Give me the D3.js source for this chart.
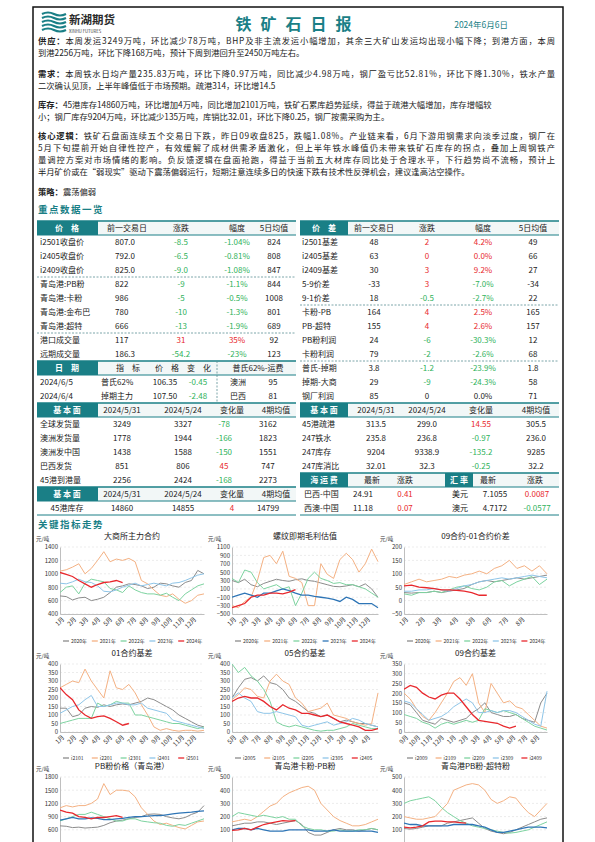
<!DOCTYPE html>
<html><head><meta charset="utf-8">
<script src="https://cdn.jsdelivr.net/npm/d3@7"></script>
<style>
body{margin:0;background:#fff;}
text{font-family:"Noto Sans CJK SC","Noto Sans",sans-serif;}
</style></head>
<body><svg id="page" width="595" height="842"></svg>
<script>
// ---------- text ----------
const paragraphs = [
  {label:"供应：", lines:["本周发运3249万吨，环比减少78万吨，BHP及非主流发运小幅增加，其余三大矿山发运均出现小幅下降；到港方面，本周","到港2256万吨，环比下降168万吨，预计下周到港回升至2450万吨左右。"], y:44, full:[true,false]},
  {label:"需求：", lines:["本周铁水日均产量235.83万吨，环比下降0.97万吨，同比减少4.98万吨，钢厂盈亏比52.81%，环比下降1.30%，铁水产量","二次确认见顶，上半年峰值低于市场预期。疏港314，环比增14.5"], y:77, full:[true,false]},
  {label:"库存：", lines:["45港库存14860万吨，环比增加4万吨，同比增加2101万吨，铁矿石累库趋势延续，得益于疏港大幅增加，库存增幅较","小；钢厂库存9204万吨，环比减少135万吨，库销比32.01，环比下降0.25，钢厂按需采购为主。"], y:108, full:[false,false]},
  {label:"核心逻辑：", lines:["铁矿石盘面连续五个交易日下跌，昨日09收盘825，跌幅1.08%。产业链来看，6月下游用钢需求向淡季过度，钢厂在","5月下旬提前开始自律性控产，有效缓解了成材供需矛盾激化，但上半年铁水峰值仍未带来铁矿石库存的拐点，叠加上周钢铁产","量调控方案对市场情绪的影响。负反馈逻辑在盘面抢跑，得益于当前五大材库存同比处于合理水平，下行趋势尚不流畅，预计上","半月矿价或在“弱现实”驱动下震荡偏弱运行，短期注意连续多日的快速下跌有技术性反弹机会，建议逢高沽空操作。"], y:139, full:[true,true,true,false]},
  {label:"策略：", lines:["震荡偏弱"], y:195, full:[false]}
];

// ---------- tables ----------
const priceHead = ["价　格","前一交易日","涨跌","幅度","5日均值"];
const priceRows = [
  ["i2501收盘价","807.0","-8.5","-1.04%","824"],
  ["i2405收盘价","792.0","-6.5","-0.81%","808"],
  ["i2409收盘价","825.0","-9.0","-1.08%","847"],
  ["青岛港:PB粉","822","-9","-1.1%","844"],
  ["青岛港:卡粉","986","-5","-0.5%","1008"],
  ["青岛港:金布巴","780","-10","-1.3%","801"],
  ["青岛港:超特","666","-13","-1.9%","689"],
  ["港口成交量","117","31","35%","92"],
  ["远期成交量","186.3","-54.2","-23%","123"]
];
const spreadHead = ["价　差","前一交易日","涨跌","幅度","5日均值"];
const spreadRows = [
  ["i2501基差","48","2","4.2%","49"],
  ["i2405基差","63","0","0.0%","66"],
  ["i2409基差","30","3","9.2%","27"],
  ["5-9价差","-33","3","-7.0%","-34"],
  ["9-1价差","18","-0.5","-2.7%","22"],
  ["卡粉-PB","164","4","2.5%","165"],
  ["PB-超特","155","4","2.6%","157"],
  ["PB粉利润","24","-6","-30.3%","12"],
  ["卡粉利润","79","-2","-2.6%","68"],
  ["普氏-掉期","3.8","-1.2","-23.9%","1.8"],
  ["掉期-大商","29","-9","-24.3%","58"],
  ["钢厂利润","85","0","0.0%","71"]
];
const indexRows = [
  ["2024/6/5","普氏62%","106.35","-0.45","澳洲","95"],
  ["2024/6/4","掉期主力","107.50","-2.48","巴西","81"]
];
const fundHead = ["基 本 面","2024/5/31","2024/5/24","变化量","4期均值"];
const fundRowsL = [
  ["全球发货量","3249","3327","-78","3162"],
  ["澳洲发货量","1778","1944","-166","1823"],
  ["澳洲发中国","1438","1588","-150","1551"],
  ["巴西发货","851","806","45","747"],
  ["45港到港量","2256","2424","-168","2273"]
];
const fundRowsR = [
  ["45港疏港","313.5","299.0","14.55","305.5"],
  ["247铁水","235.8","236.8","-0.97","236.0"],
  ["247库存","9204","9338.9","-135.2","9285"],
  ["247库消比","32.01","32.3","-0.25","32.2"]
];
const stockRow = ["45港库存","14860","14855","4","14799"];
const freightRows = [
  ["巴西-中国","24.91","0.41","美元","7.1055","0.0087"],
  ["西澳-中国","11.18","0.07","澳元","4.7172","-0.0577"]
];

// ---------- chart series ----------
const yearNames = ["2020年","2021年","2022年","2023年","2024年"];
const monthsJan = ["1月","2月","3月","4月","5月","6月","7月","8月","9月","10月","11月","12月"];
const monthsMay = ["5月","6月","7月","8月","9月","10月","11月","12月","1月","2月","3月","4月"];
const monthsSep = ["9月","10月","11月","12月","1月","2月","3月","4月","5月","6月","7月","8月"];
const months8 = ["1月","2月","3月","4月","5月","6月","7月","8月"];

const dceMain = [
  [670,660,610,640,650,600,620,650,720,800,820,850,840,820,780,800,860,850,820,800,870,900,1050,1000],
  [1040,1060,1100,1150,1000,1080,1200,1330,1180,1220,1200,1230,1180,900,850,760,680,660,700,620,560,600,680,700],
  [720,800,820,700,860,920,900,880,780,760,720,820,760,720,700,700,680,710,650,600,700,760,820,850],
  [860,850,880,920,880,870,820,740,730,760,800,830,860,820,840,860,840,820,860,870,900,940,980,1000],
  [1020,990,960,900,850,800,840,870,880,900,870]
];
const rebarProfit = [
  [300,250,330,200,150,230,280,330,300,280,320,340,300,280,240,200,160,150,170,200,150,220,100,-100],
  [-300,-350,-200,-100,300,850,900,700,1000,400,350,250,-300,-300,700,450,350,800,950,800,500,700,1050,750],
  [350,250,550,500,250,100,150,200,100,150,-300,0,350,500,350,300,230,250,200,200,150,100,0,-100],
  [-100,-50,0,-50,-100,0,0,50,100,60,0,-50,-50,-80,-100,-120,-150,-200,-100,-150,-250,-250,-250,-350],
  [-350,-300,-250,-100,-50,-50,0,0,-20,20,80]
];
const spread91 = [
  [30,28,30,30,35,30,35,40,45,60,70,75,70,75,80,85,80,85,90,95],
  [60,70,80,70,75,80,90,85,95,100,110,100,120,130,150,120,130,110,130,100],
  [25,20,30,30,35,30,40,50,55,45,40,50,70,75,55,70,80,90,60,80],
  [35,35,40,40,45,40,35,45,55,60,70,75,80,85,80,85,90,95,90,85],
  [55,58,50,48,45,40,40,38,35,30,20,20]
];
const basis01Names = ["i2101","i2201","i2301","i2401","i2501"];
const basis01 = [
  [140,140,90,100,140,150,145,160,150,160,165,160,170,180,200,190,170,150,130,100,80,60,40,30],
  [260,280,300,290,370,300,250,200,360,260,250,280,230,160,100,30,10,20,10,5,10,10,5,10],
  [50,60,70,80,80,80,170,150,160,180,170,170,100,100,90,80,70,60,50,50,40,30,20,30],
  [110,130,150,160,190,215,150,150,160,170,170,160,160,170,140,130,120,110,70,60,50,40,30,20],
  [260,220,190,130,100,80,90,95,80,60,40,50]
];
const basis05Names = ["i2005","i2105","i2205","i2305","i2405"];
const basis05 = [
  [200,260,310,320,300,330,290,280,250,200,180,150,120,110,90,100,80,60,70,60,50,50,40,30],
  [190,220,260,250,210,200,300,340,300,280,200,170,120,130,140,170,100,90,80,60,50,40,50,230],
  [400,350,380,330,300,250,180,60,40,30,40,30,20,10,5,10,10,20,30,50,40,30,20,20],
  [200,230,200,180,120,110,110,120,110,100,90,40,30,40,50,60,40,50,60,80,70,50,40,30],
  [180,200,210,200,200,180,150,130,160,140,130,110,110,100,90,100,80,60,50,40,30,10,10,20]
];
const basis09Names = ["i2009","i2109","i2209","i2309","i2409"];
const basis09 = [
  [150,140,100,60,50,40,70,60,50,60,70,100,120,150,100,90,80,80,90,70,60,50,150,200],
  [200,170,120,80,60,100,150,200,260,280,240,300,150,100,250,200,150,160,130,120,90,60,30,20],
  [90,80,70,50,40,20,40,50,40,50,60,50,60,120,110,100,110,100,90,70,50,30,20,10],
  [160,150,120,90,60,70,80,100,130,150,170,150,100,100,110,100,110,110,100,80,60,40,30,210],
  [220,240,230,200,180,170,190,200,200,170,130,90,60,55,50,45,30,20,30]
];
const pbPrice = [
  [690,680,650,660,640,650,660,700,760,800,820,850,880,900,950,960,950,900,870,850,880,950,1000,1150],
  [1100,1150,1120,1150,1150,1200,1300,1650,1400,1500,1500,1480,1350,1100,950,800,720,750,700,650,620,700,780,800],
  [800,850,900,950,950,1000,950,900,850,800,800,850,850,800,780,760,750,700,680,720,700,750,800,850],
  [820,850,880,850,850,870,860,830,830,850,860,880,900,900,910,920,920,940,960,980,990,1000,1020,1030],
  [1050,1000,980,900,880,850,880,880,900,920,880]
];
const kaPb = [
  [130,140,150,150,160,160,150,140,150,160,170,140,80,60,60,80,100,110,100,100,90,100,110,100],
  [160,170,180,170,200,240,280,300,350,380,400,420,430,400,300,250,200,170,150,130,130,140,160,180],
  [200,230,220,210,200,210,200,190,200,180,180,130,110,100,100,90,90,100,90,90,100,100,110,100],
  [100,110,110,100,110,100,90,90,90,100,100,100,100,90,90,90,100,90,90,90,90,90,90,80],
  [95,100,110,100,120,140,150,160,170,165,170]
];
const pbSuper = [
  [110,105,110,120,130,130,130,150,160,170,180,190,150,110,90,80,70,80,100,120,140,160,180,190],
  [200,190,180,180,190,200,250,300,400,420,440,450,440,400,330,300,320,350,340,280,230,200,250,300],
  [300,320,330,340,350,320,270,230,200,170,150,130,120,110,100,90,80,75,80,90,100,120,140,160],
  [150,140,140,130,130,130,130,130,140,140,140,140,130,120,100,80,80,90,100,110,120,120,120,115],
  [120,115,120,130,160,165,165,160,160,155,150]
];

// ---------- drawing ----------
const TEAL = "#1a7f86", RED = "#e8282d", GREEN = "#2fb25a", INK = "#222";
const svg = d3.select("#page");

svg.append("rect").attr("x",33).attr("y",7).attr("width",530).attr("height",850)
  .attr("fill","none").attr("stroke","#111").attr("stroke-width",1.5);

// header: logo, title, date
const logo = svg.append("g").attr("transform","translate(42,12)");
[0,4,8,12,16].forEach(dy => {
  logo.append("path").attr("d",`M0 ${dy+2} Q6 ${dy-1} 12 ${dy+2} T24 ${dy+2}`)
    .attr("fill","none").attr("stroke",TEAL).attr("stroke-width",2.2);
});
logo.append("text").attr("x",27).attr("y",12).attr("font-size",11.5).attr("font-weight",700)
  .attr("fill","#2a2a2a").text("新湖期货");
logo.append("text").attr("x",27).attr("y",20.5).attr("font-size",4.2).attr("fill","#333").text("XINHU FUTURES");
svg.append("text").attr("x",298).attr("y",30).attr("text-anchor","middle").attr("font-size",16)
  .attr("font-weight",700).attr("fill",TEAL).attr("letter-spacing",9).text("铁矿石日报");
svg.append("text").attr("x",508).attr("y",28).attr("text-anchor","end").attr("font-size",8.5)
  .attr("fill",TEAL).text("2024年6月6日");

// paragraphs
paragraphs.forEach(p => {
  p.lines.forEach((line,i) => {
    const t = svg.append("text").attr("x",38).attr("y",p.y + i*12).attr("font-size",8.3).attr("fill",INK);
    if (i === 0) t.append("tspan").attr("font-weight",700).text(p.label);
    t.append("tspan").text(line);
    if (p.full[i]) t.attr("textLength",517).attr("lengthAdjust","spacing");
  });
});
svg.append("text").attr("x",38).attr("y",213).attr("font-size",9.5).attr("font-weight",700)
  .attr("fill",TEAL).attr("letter-spacing",1.5).text("重点数据一览");

// tables
const ROW0 = 228, PITCH = 14;
const rowY = i => ROW0 + i*PITCH;
const signColor = (s, zeroBlack) => {
  const v = parseFloat(s);
  if (isNaN(v)) return INK;
  if (v < 0) return GREEN;
  if (v === 0 && zeroBlack) return INK;
  return RED;
};
function cell(x, i, txt, opt={}) {
  svg.append("text").attr("x",x).attr("y",rowY(i)+3).attr("font-size",opt.size||8)
    .attr("text-anchor",opt.anchor||"middle").attr("fill",opt.fill||INK)
    .attr("font-weight",opt.bold?700:400).text(txt);
}
function headBand(x0, x1, i, cells) {
  const top = rowY(i)-7;
  svg.append("rect").attr("x",x0).attr("y",top).attr("width",x1-x0).attr("height",PITCH)
    .attr("fill","#f2f7f7");
  cells.forEach(c => {
    svg.append("rect").attr("x",c[0]).attr("y",top).attr("width",c[1]-c[0]).attr("height",PITCH).attr("fill",TEAL);
  });
  svg.append("line").attr("x1",x0).attr("x2",x1).attr("y1",top).attr("y2",top).attr("stroke",TEAL).attr("stroke-width",1.5);
  svg.append("line").attr("x1",x0).attr("x2",x1).attr("y1",top+PITCH).attr("y2",top+PITCH).attr("stroke",TEAL).attr("stroke-width",1);
}
function dashLine(x0, x1, afterRow) {
  const y = rowY(afterRow)+7;
  svg.append("line").attr("x1",x0).attr("x2",x1).attr("y1",y).attr("y2",y)
    .attr("stroke","#5a8f94").attr("stroke-dasharray","2,1.5").attr("stroke-width",0.8);
}

const L0 = 37, L1 = 296, R0 = 300, R1 = 559;
const colL = [40,127,181,237,274];
const colR = [302,374,427,483,533];

// price table (left)
headBand(L0, L1, 0, [[L0,98]]);
cell(67,0,priceHead[0],{fill:"#fff",bold:true});
priceHead.slice(1).forEach((h,j) => cell([127,181,237,274][j],0,h));
priceRows.forEach((r,k) => {
  const i = k+1;
  cell(colL[0],i,r[0],{anchor:"start"});
  cell(115,i,r[1],{anchor:"start"});
  cell(colL[2],i,r[2],{fill:signColor(r[2])});
  cell(colL[3],i,r[3],{fill:signColor(r[3])});
  cell(colL[4],i,r[4]);
});
dashLine(L0,L1,3); dashLine(L0,L1,7);

// spread table (right)
headBand(R0, R1, 0, [[R0,348]]);
cell(324,0,spreadHead[0],{fill:"#fff",bold:true});
spreadHead.slice(1).forEach((h,j) => cell(colR[j+1],0,h));
spreadRows.forEach((r,k) => {
  const i = k+1;
  cell(colR[0],i,r[0],{anchor:"start"});
  cell(colR[1],i,r[1]);
  cell(colR[2],i,r[2],{fill:signColor(r[2], k===11)});
  cell(colR[3],i,r[3],{fill:signColor(r[3], k===11)});
  cell(colR[4],i,r[4]);
});
dashLine(R0,R1,5); dashLine(R0,R1,9);

// index rows (left)
headBand(L0, L1, 10, [[L0,98]]);
cell(67,10,"日　期",{fill:"#fff",bold:true});
cell(128,10,"指　标"); cell(183,10,"价　格　变　化"); cell(258,10,"普氏62%-运费");
svg.append("line").attr("x1",217).attr("x2",217).attr("y1",rowY(10)-7).attr("y2",rowY(12)+7)
  .attr("stroke","#5a8f94").attr("stroke-dasharray","2,1.5").attr("stroke-width",0.8);
indexRows.forEach((r,k) => {
  const i = 11+k;
  cell(40,i,r[0],{anchor:"start"}); cell(101,i,r[1],{anchor:"start"});
  cell(165,i,r[2]); cell(198,i,r[3],{fill:signColor(r[3])});
  cell(230,i,r[4],{anchor:"start"}); cell(273,i,r[5]);
});

// fundamentals
const colFL = [40,122,183,224,268], colFR = [302,376,427,481,536];
headBand(L0, L1, 13, [[L0,98]]);
headBand(R0, R1, 13, [[R0,348]]);
cell(67,13,fundHead[0],{fill:"#fff",bold:true});
cell(324,13,fundHead[0],{fill:"#fff",bold:true});
fundHead.slice(1).forEach((h,j) => { cell(colFL[j+1]+ (j<2?0:8),13,h); cell(colFR[j+1],13,h); });
fundRowsL.forEach((r,k) => {
  const i = 14+k;
  cell(40,i,r[0],{anchor:"start"});
  cell(colFL[1],i,r[1]); cell(colFL[2],i,r[2]);
  cell(colFL[3],i,r[3],{fill:signColor(r[3])}); cell(colFL[4],i,r[4]);
});
fundRowsR.forEach((r,k) => {
  const i = 14+k;
  cell(colFR[0],i,r[0],{anchor:"start"});
  cell(colFR[1],i,r[1]); cell(colFR[2],i,r[2]);
  cell(colFR[3],i,r[3],{fill:signColor(r[3])}); cell(colFR[4],i,r[4]);
});
headBand(L0, L1, 19, [[L0,98]]);
cell(67,19,fundHead[0],{fill:"#fff",bold:true});
fundHead.slice(1).forEach((h,j) => cell(colFL[j+1]+(j<2?0:8),19,h));
cell(67,20,stockRow[0]); cell(colFL[1],20,stockRow[1]); cell(colFL[2],20,stockRow[2]);
cell(colFL[3]+8,20,stockRow[3],{fill:signColor(stockRow[3])}); cell(colFL[4],20,stockRow[4]);

// freight / fx
headBand(R0, R1, 18, [[R0,348],[445,473]]);
cell(324,18,"海 运 费",{fill:"#fff",bold:true}); cell(372,18,"最新"); cell(405,18,"涨跌");
cell(459,18,"汇 率",{fill:"#fff",bold:true}); cell(488,18,"最新"); cell(535,18,"涨跌");
freightRows.forEach((r,k) => {
  const i = 19+k;
  cell(304,i,r[0],{anchor:"start"}); cell(363,i,r[1]); cell(405,i,r[2],{fill:signColor(r[2])});
  cell(452,i,r[3],{anchor:"start"}); cell(495,i,r[4]); cell(537,i,r[5],{fill:signColor(r[5])});
});
svg.append("line").attr("x1",R0).attr("x2",R1).attr("y1",rowY(20)+7).attr("y2",rowY(20)+7).attr("stroke",TEAL);
svg.append("line").attr("x1",L0).attr("x2",L1).attr("y1",rowY(20)+7).attr("y2",rowY(20)+7).attr("stroke",TEAL);

svg.append("text").attr("x",38).attr("y",528).attr("font-size",9.5).attr("font-weight",700)
  .attr("fill",TEAL).attr("letter-spacing",1.5).text("关键指标走势");

// ---------- charts ----------
const seriesColors = ["#8c8c8c","#f4b183","#7dd3a0","#8ec5e8","#e8282d"];
const blueDark = "#2e75b6";
const colX = [[60,204],[232,378],[404,547]];
const rowsY = [[547,614],[664,732],[777,843]];

function drawChart(ci, ri, cfg) {
  const [x0,x1] = colX[ci], [yb0,yb1] = rowsY[ri];
  const g = svg.append("g");
  const n = cfg.n || 24;
  const x = d3.scaleLinear().domain([0,n-1]).range([x0,x1]);
  const y = d3.scaleLinear().domain(cfg.domain).range([yb1,yb0]);
  const clipId = `clip${ci}${ri}`;
  svg.append("clipPath").attr("id",clipId).append("rect")
    .attr("x",x0).attr("y",yb0-2).attr("width",x1-x0+2).attr("height",Math.min(yb1,842)-yb0+2);
  const ticks = d3.range(cfg.domain[0], cfg.domain[1]+0.001, cfg.step);
  ticks.forEach(t => {
    g.append("line").attr("x1",x0).attr("x2",x1).attr("y1",y(t)).attr("y2",y(t))
      .attr("stroke","#d9d9d9").attr("stroke-dasharray","2,2").attr("stroke-width",0.5);
  });
  const yAxis = g.append("g").attr("transform",`translate(${x0},0)`)
    .call(d3.axisLeft(y).tickValues(ticks).tickFormat(d3.format("d")).tickSize(0).tickPadding(2));
  yAxis.select(".domain").attr("stroke","#bfbfbf");
  yAxis.selectAll("text").attr("font-size",6).attr("fill","#333");
  yAxis.selectAll(".tick").filter(d => y(d) > 842).remove();
  if (cfg.months) {
    const m = cfg.months.length;
    const xm = d3.scaleLinear().domain([0,cfg.monthSpan||m]).range([x0,x1]);
    const xa = g.append("g").attr("transform",`translate(0,${yb1})`)
      .call(d3.axisBottom(xm).tickValues(d3.range(m)).tickFormat(i => cfg.months[i]).tickSize(0).tickPadding(3));
    xa.select(".domain").attr("stroke","#bfbfbf");
    xa.selectAll("text").attr("font-size",6.2).attr("fill","#333")
      .attr("text-anchor","end").attr("transform","rotate(-45)").attr("dx",-1).attr("dy",4);
  }
  const line = d3.line().x((d,i) => x(i)).y(d => y(d)).curve(d3.curveLinear);
  const lg = g.append("g").attr("clip-path",`url(#${clipId})`);
  cfg.data.forEach((s,k) => {
    lg.append("path").datum(s).attr("d",line).attr("fill","none")
      .attr("stroke", (k===3 && cfg.darkBlue) ? blueDark : seriesColors[k])
      .attr("stroke-width", k===4 || (k===3 && cfg.darkBlue) ? 1.3 : 1);
  });
  g.append("text").attr("x",(x0+x1)/2).attr("y",yb0-8).attr("text-anchor","middle")
    .attr("font-size",8).attr("fill","#222").text(cfg.title);
  g.append("text").attr("x",x0-24).attr("y",yb0-6).attr("font-size",5.5).attr("fill","#333").text("元/吨");
  if (cfg.legendY) {
    const step = (x1-x0)/5;
    cfg.names.forEach((nm,k) => {
      const lx = x0 + 12 + k*step;
      g.append("line").attr("x1",lx-9).attr("x2",lx-3).attr("y1",cfg.legendY).attr("y2",cfg.legendY)
        .attr("stroke",(k===3 && cfg.darkBlue) ? blueDark : seriesColors[k]).attr("stroke-width",1.3);
      g.append("text").attr("x",lx-1).attr("y",cfg.legendY+2).attr("font-size",5).attr("fill","#333").text(nm);
    });
  }
}

drawChart(0,0,{title:"大商所主力合约",domain:[400,1400],step:200,data:dceMain,months:monthsJan,names:yearNames,legendY:641});
drawChart(1,0,{title:"螺纹即期毛利估值",domain:[-500,1100],step:200,data:rebarProfit,months:monthsJan,names:yearNames,legendY:641,darkBlue:true});
drawChart(2,0,{title:"09合约-01合约价差",domain:[-50,200],step:50,data:spread91,n:20,months:months8,monthSpan:8.6,names:yearNames,legendY:641});
drawChart(0,1,{title:"01合约基差",domain:[0,400],step:50,data:basis01,months:monthsJan,names:basis01Names,legendY:758});
drawChart(1,1,{title:"05合约基差",domain:[0,400],step:50,data:basis05,months:monthsMay,names:basis05Names,legendY:758});
drawChart(2,1,{title:"09合约基差",domain:[0,350],step:50,data:basis09,months:monthsSep,names:basis09Names,legendY:758});
drawChart(0,2,{title:"PB粉价格（青岛港）",domain:[300,1800],step:300,data:pbPrice,darkBlue:true});
drawChart(1,2,{title:"青岛港卡粉-PB粉",domain:[0,500],step:100,data:kaPb,darkBlue:true});
drawChart(2,2,{title:"青岛港PB粉-超特粉",domain:[0,500],step:100,data:pbSuper,darkBlue:true});
</script></body></html>
